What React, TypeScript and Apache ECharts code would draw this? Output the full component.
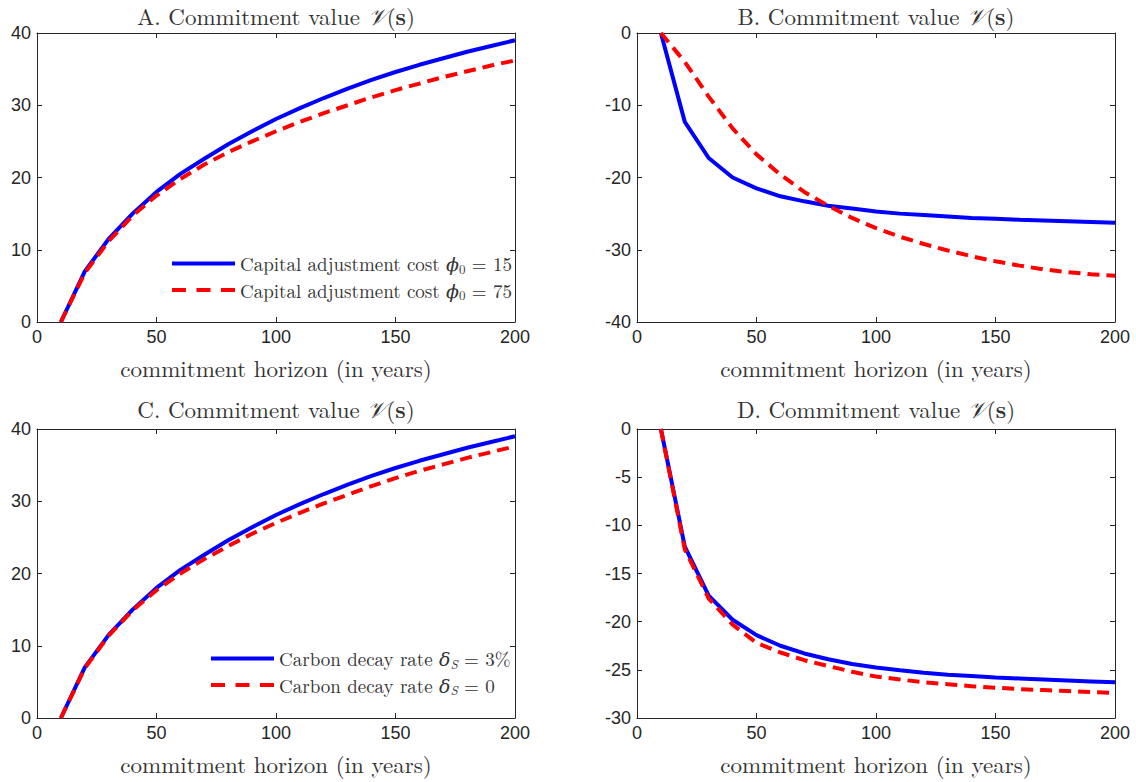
import React, { useEffect, useRef } from "react";
import * as echarts from "echarts";

const horizons = [10, 20, 30, 40, 50, 60, 70, 80, 90, 100, 110, 120, 130, 140, 150, 160, 170, 180, 190, 200];

const aBlue = [0, 7.0, 11.5, 15.0, 18.0, 20.5, 22.6, 24.6, 26.4, 28.1, 29.6, 31.0, 32.3, 33.5, 34.6, 35.6, 36.5, 37.4, 38.2, 39.0];
const aRed = [0, 6.8, 11.2, 14.7, 17.5, 19.8, 21.8, 23.5, 25.0, 26.4, 27.7, 28.9, 30.0, 31.1, 32.1, 33.0, 33.9, 34.7, 35.5, 36.2];

const bBlue = [0, -12.3, -17.3, -20.0, -21.5, -22.6, -23.3, -23.9, -24.3, -24.7, -25.0, -25.2, -25.4, -25.6, -25.7, -25.85, -25.95, -26.05, -26.15, -26.25];
const bRed = [0, -4.0, -8.8, -13.2, -16.8, -19.6, -22.0, -23.9, -25.6, -27.0, -28.2, -29.2, -30.1, -30.9, -31.6, -32.2, -32.7, -33.1, -33.4, -33.6];

const cBlue = [0, 7.0, 11.5, 15.0, 18.0, 20.5, 22.6, 24.6, 26.4, 28.1, 29.6, 31.0, 32.3, 33.5, 34.6, 35.6, 36.5, 37.4, 38.2, 39.0];
const cRed = [0, 6.9, 11.4, 14.9, 17.7, 20.0, 22.0, 23.8, 25.5, 27.0, 28.4, 29.7, 30.9, 32.1, 33.2, 34.2, 35.1, 36.0, 36.8, 37.6];

const dBlue = [0, -12.2, -17.3, -19.8, -21.4, -22.5, -23.3, -23.9, -24.4, -24.75, -25.05, -25.3, -25.5, -25.65, -25.8, -25.9, -26.0, -26.1, -26.2, -26.3];
const dRed = [0, -12.5, -17.6, -20.3, -22.2, -23.2, -24.0, -24.6, -25.2, -25.7, -26.0, -26.3, -26.5, -26.7, -26.85, -27.0, -27.1, -27.2, -27.3, -27.4];

const panelLetters = ["A", "B", "C", "D"];
const xTicks = { min: 0, max: 200, interval: 50 };
const yRanges = [
  { min: 0, max: 40, interval: 10 },
  { min: -40, max: 0, interval: 10 },
  { min: 0, max: 40, interval: 10 },
  { min: -30, max: 0, interval: 5 },
];
const legendA = ["Capital adjustment cost ϕ0 = 15", "Capital adjustment cost ϕ0 = 75"];
const legendC = ["Carbon decay rate δS = 3%", "Carbon decay rate δS = 0"];
const xLabel = "commitment horizon (in years)";

const SERIF = "'Latin Modern Roman', 'CMU Serif', 'DejaVu Serif', serif";
const SANS = "'Liberation Sans', Arial, Helvetica, sans-serif";
const AXIS_COLOR = "#262626";
const TEXT_COLOR = "#333333";

const grids = [
  { left: 37, top: 33, width: 478, height: 289 },
  { left: 637, top: 33, width: 478, height: 289 },
  { left: 37, top: 429, width: 478, height: 289 },
  { left: 637, top: 429, width: 478, height: 289 },
];

const pairs = (ys: number[]) => horizons.map((x, i) => [x, ys[i]]);

const LF = 19;
const richLegend = {
  n: { fontFamily: SERIF, fontSize: LF, color: TEXT_COLOR, fontWeight: "normal" },
  i: { fontFamily: SERIF, fontSize: LF, fontStyle: "italic", color: TEXT_COLOR, fontWeight: "normal" },
  s: { fontFamily: SERIF, fontSize: 13, color: TEXT_COLOR, padding: [9, 0, 0, 0], fontWeight: "normal" },
  si: { fontFamily: SERIF, fontSize: 13, fontStyle: "italic", color: TEXT_COLOR, padding: [9, 0, 0, 0], fontWeight: "normal" },
};

const legendFormat = (name: string) => {
  if (name === legendA[0]) return "{n|Capital adjustment cost }{i|ϕ}{s|0}{n| = 15}";
  if (name === legendA[1]) return "{n|Capital adjustment cost }{i|ϕ}{s|0}{n| = 75}";
  if (name === legendC[0]) return "{n|Carbon decay rate }{i|δ}{si|S}{n| = 3%}";
  if (name === legendC[1]) return "{n|Carbon decay rate }{i|δ}{si|S}{n| = 0}";
  return name;
};

const SOLID_ICON = "path://M0,0h63v4h-63z";
const DASH_ICON = "path://M0,0h14v4h-14z M24.5,0h14v4h-14z M49,0h14v4h-14z";

export default function App() {
  const ref = useRef<HTMLDivElement>(null);
  useEffect(() => {
    if (!ref.current) return;
    const chart = echarts.init(ref.current, undefined, { renderer: "svg" });

    const xAxes: any[] = [];
    const yAxes: any[] = [];
    grids.forEach((_, g) => {
      const common = {
        gridIndex: g,
        axisLine: { show: true, onZero: false, lineStyle: { color: AXIS_COLOR, width: 1 } },
        axisTick: { show: true, inside: true, length: 5, lineStyle: { color: AXIS_COLOR } },
        splitLine: { show: false },
      };
      xAxes.push({
        ...common,
        type: "value",
        position: "bottom",
        ...xTicks,
        axisLabel: { show: true, fontFamily: SANS, fontSize: 18, color: AXIS_COLOR, margin: 6 },
        name: xLabel,
        nameLocation: "middle",
        nameGap: 34,
        nameTextStyle: { fontFamily: SERIF, fontSize: 23, color: TEXT_COLOR },
      });
      yAxes.push({
        ...common,
        type: "value",
        position: "left",
        ...yRanges[g],
        axisLabel: { show: true, fontFamily: SANS, fontSize: 18, color: AXIS_COLOR, margin: 6 },
      });
    });
    grids.forEach((_, g) => {
      const common = {
        gridIndex: g,
        type: "value",
        axisLine: { show: true, onZero: false, lineStyle: { color: AXIS_COLOR, width: 1 } },
        axisTick: { show: true, inside: true, length: 5, lineStyle: { color: AXIS_COLOR } },
        axisLabel: { show: false },
        splitLine: { show: false },
      };
      xAxes.push({ ...common, position: "top", ...xTicks });
      yAxes.push({ ...common, position: "right", ...yRanges[g] });
    });

    const allData = [
      [aBlue, aRed, legendA[0], legendA[1]],
      [bBlue, bRed, "B blue", "B red"],
      [cBlue, cRed, legendC[0], legendC[1]],
      [dBlue, dRed, "D blue", "D red"],
    ] as any[];

    const series: any[] = [];
    allData.forEach(([blue, red, nb, nr], g) => {
      series.push({
        type: "line",
        name: nb,
        xAxisIndex: g,
        yAxisIndex: g,
        data: pairs(blue),
        symbol: "none",
        lineStyle: { color: "#0000ff", width: 4 },
        itemStyle: { color: "#0000ff" },
        z: 2,
      });
      series.push({
        type: "line",
        name: nr,
        xAxisIndex: g,
        yAxisIndex: g,
        data: pairs(red),
        symbol: "none",
        lineStyle: { color: "#ff0000", width: 4, type: [12, 7] },
        itemStyle: { color: "#ff0000" },
        z: 3,
      });
    });

    const TF = 23;
    const TL = 25;
    const titles = grids.map((gr, g) => ({
      text: `{t|${panelLetters[g]}. Commitment value }{v|𝒱}{t|(}{b|s}{t|)}`,
      left: gr.left + gr.width / 2,
      textAlign: "center",
      top: Math.max(3, gr.top - 33),
      padding: 0,
      textStyle: {
        fontWeight: "normal",
        lineHeight: TL,
        rich: {
          t: { fontFamily: SERIF, fontSize: TF, lineHeight: TL, color: TEXT_COLOR, fontWeight: "normal" },
          v: { fontFamily: SERIF, fontSize: TF, lineHeight: TL, color: TEXT_COLOR, fontStyle: "italic", fontWeight: "normal" },
          b: { fontFamily: SERIF, fontSize: TF, lineHeight: TL, color: TEXT_COLOR, fontWeight: "bold" },
        },
      },
    }));

    const legendCommon = {
      orient: "vertical",
      itemWidth: 63,
      itemHeight: 4,
      itemGap: 6,
      padding: 0,
      formatter: legendFormat,
      textStyle: { rich: richLegend, fontWeight: "normal" },
      selectedMode: false,
    };

    chart.setOption({
      animation: false,
      backgroundColor: "#ffffff",
      title: titles,
      grid: grids.map((gr) => ({ ...gr, containLabel: false })),
      xAxis: xAxes,
      yAxis: yAxes,
      legend: [
        {
          ...legendCommon,
          data: [
            { name: legendA[0], icon: SOLID_ICON },
            { name: legendA[1], icon: DASH_ICON },
          ],
          left: 172,
          top: 254,
        },
        {
          ...legendCommon,
          data: [
            { name: legendC[0], icon: SOLID_ICON },
            { name: legendC[1], icon: DASH_ICON },
          ],
          left: 211,
          top: 649,
        },
      ],
      series,
    });
    return () => chart.dispose();
  }, []);
  return (
    <div
      ref={ref}
      style={{ position: "fixed", left: 0, top: 0, width: 1136, height: 782, background: "#fff" }}
    />
  );
}
